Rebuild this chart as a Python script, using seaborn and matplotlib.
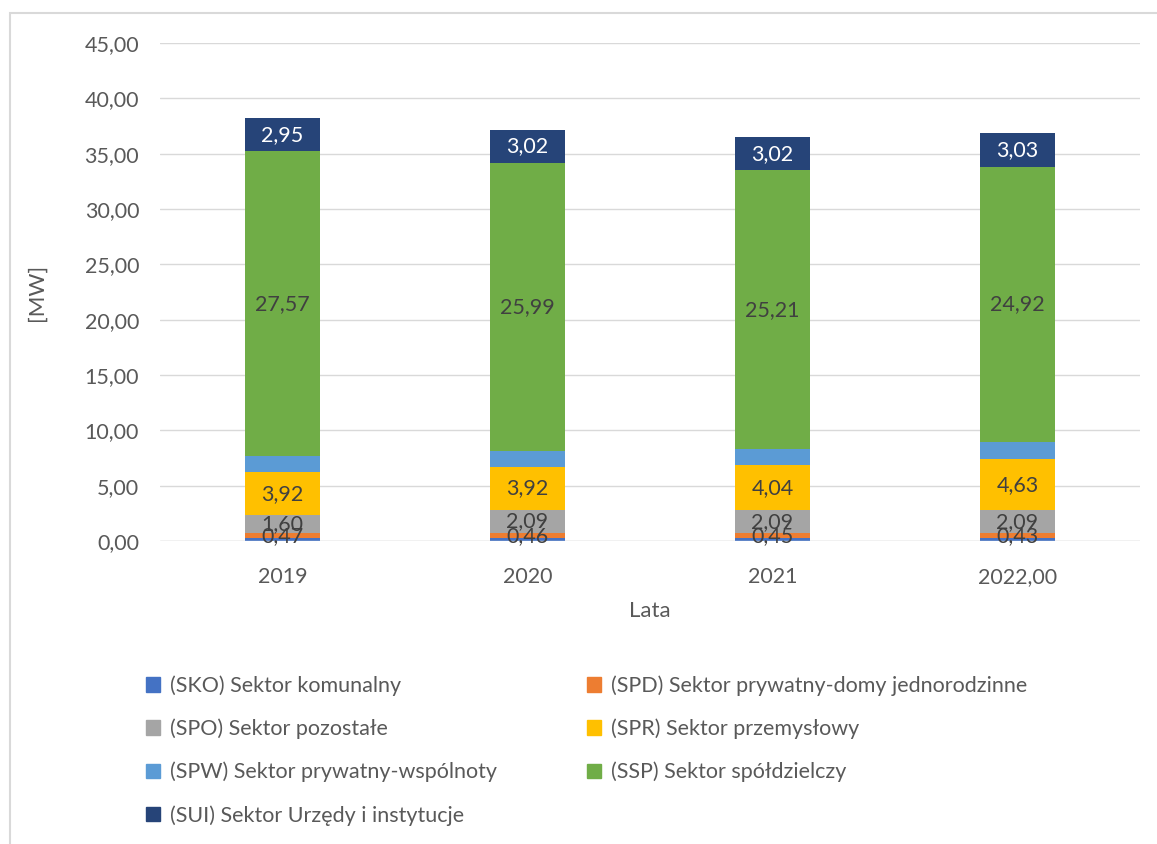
import matplotlib
matplotlib.use("Agg")
import matplotlib.pyplot as plt
import matplotlib.patches as mpatches
import numpy as np
import pandas as pd
import seaborn as sns

# data
years = ["2019", "2020", "2021", "2022,00"]
sko = [0.25, 0.25, 0.25, 0.26]
spd = [0.47, 0.46, 0.45, 0.43]
spo = [1.60, 2.09, 2.09, 2.09]
spr = [3.92, 3.92, 4.04, 4.63]
spw = [1.42, 1.42, 1.44, 1.50]
ssp = [27.57, 25.99, 25.21, 24.92]
sui = [2.95, 3.02, 3.02, 3.03]

series_names = [
    "(SKO) Sektor komunalny",
    "(SPD) Sektor prywatny-domy jednorodzinne",
    "(SPO) Sektor pozostałe",
    "(SPR) Sektor przemysłowy",
    "(SPW) Sektor prywatny-wspólnoty",
    "(SSP) Sektor spółdzielczy",
    "(SUI) Sektor Urzędy i instytucje",
]
colors = ["#4472C4", "#ED7D31", "#A5A5A5", "#FFC000", "#5B9BD5", "#70AD47", "#264478"]
show_label = [False, True, True, True, False, True, True]
label_colors = ["#404040"] * 6 + ["white"]

df = pd.DataFrame(
    np.array([sko, spd, spo, spr, spw, ssp, sui]).T,
    index=years, columns=series_names,
)

sns.set_theme(style="white")
plt.rcParams["font.family"] = ["Lato", "DejaVu Sans"]

fig = plt.figure(figsize=(11.57, 8.44), dpi=100)
ax = fig.add_axes([160 / 1157, 1 - 541 / 844, 980 / 1157, 498 / 844])

# stacked bars: draw cumulative totals from top segment down
cum = df.cumsum(axis=1)
for name, c in reversed(list(zip(series_names, colors))):
    sns.barplot(x=cum.index, y=cum[name].values, color=c, width=0.31,
                saturation=1, ax=ax, zorder=3, linewidth=0)

# value labels in Polish format
bottoms = cum - df
for j, name in enumerate(series_names):
    if not show_label[j]:
        continue
    for i, yr in enumerate(years):
        v = df.loc[yr, name]
        ymid = bottoms.loc[yr, name] + v / 2
        ax.text(i, ymid, f"{v:.2f}".replace(".", ","), ha="center", va="center",
                fontsize=15.5, color=label_colors[j], zorder=5)

ax.set_ylim(0, 45)
ax.set_xlim(-0.5, 3.5)
ax.set_yticks(np.arange(0, 46, 5))
ax.set_yticklabels([f"{t:.2f}".replace(".", ",") for t in np.arange(0, 46, 5)])
ax.yaxis.grid(True, color="#d9d9d9", linewidth=1)
ax.set_axisbelow(True)
for s in ax.spines.values():
    s.set_visible(False)
ax.axhline(0, color="#d9d9d9", linewidth=1, zorder=4)
ax.tick_params(axis="both", length=0, labelsize=15.5, colors="#595959")
ax.tick_params(axis="x", pad=19)
ax.tick_params(axis="y", pad=15)
ax.set_xlabel("Lata", fontsize=16, color="#595959", labelpad=10)
ax.set_ylabel("[MW]", fontsize=16, color="#595959", labelpad=27)

# legend, row-wise order in two columns
order = [0, 2, 4, 6, 1, 3, 5]
handles = [mpatches.Patch(color=colors[k], label=series_names[k]) for k in order]
fig.legend(handles=handles, loc="upper left", bbox_to_anchor=(127 / 1157, 1 - 656 / 844),
           ncol=2, frameon=False, fontsize=15.5, labelcolor="#595959",
           handlelength=0.65, handleheight=0.65, handletextpad=0.45,
           columnspacing=4.2, labelspacing=1.05)

# light outer border (cut at right and bottom)
fig.patches.append(mpatches.Rectangle((10 / 1157, -0.5), 2, 1.5 - 13 / 844,
                                      transform=fig.transFigure, fill=False,
                                      edgecolor="#d9d9d9", linewidth=1.5))

fig.savefig("out.png", dpi=100)
